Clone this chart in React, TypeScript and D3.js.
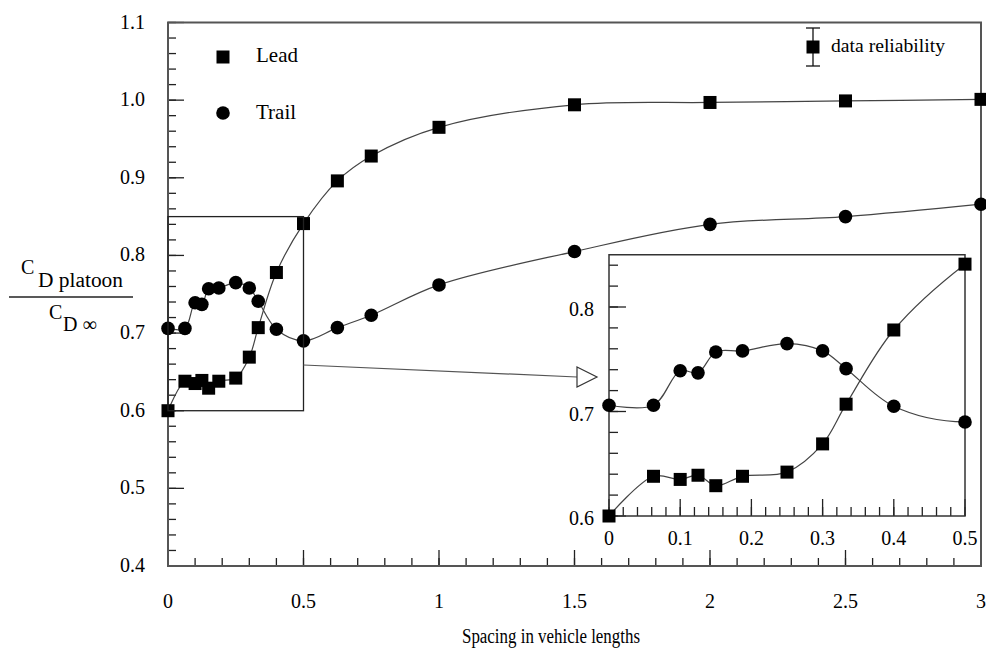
import { useRef, useEffect } from 'react';
import * as d3 from 'd3';

// spacing in vehicle lengths, shared by both series
const spacing = [0, 0.0625, 0.1, 0.125, 0.15, 0.1875, 0.25, 0.3, 0.333, 0.4, 0.5, 0.625, 0.75, 1, 1.5, 2, 2.5, 3];
const leadCd = [0.6, 0.638, 0.635, 0.639, 0.629, 0.638, 0.642, 0.669, 0.707, 0.778, 0.841, 0.896, 0.928, 0.965, 0.994, 0.997, 0.999, 1.001];
const trailCd = [0.706, 0.706, 0.739, 0.737, 0.757, 0.758, 0.765, 0.758, 0.741, 0.705, 0.69, 0.707, 0.723, 0.762, 0.805, 0.84, 0.85, 0.866];

const mainYTicks = [0.4, 0.5, 0.6, 0.7, 0.8, 0.9, 1.0, 1.1];
const mainXTicks = [0, 0.5, 1, 1.5, 2, 2.5, 3];
const insetXTicks = [0, 0.1, 0.2, 0.3, 0.4, 0.5];
const insetYTicks = [0.6, 0.7, 0.8];

const FONT = '"Liberation Serif", "Times New Roman", serif';

type Pt = { x: number; y: number };
type Sel = d3.Selection<SVGGElement, unknown, null, undefined>;

const App = () => {
  const svgRef = useRef<SVGSVGElement>(null);

  useEffect(() => {
    const svg = d3.select(svgRef.current);
    svg.selectAll('*').remove();

    const x = d3.scaleLinear().domain([0, 3]).range([168, 981]);
    const y = d3.scaleLinear().domain([0.4, 1.1]).range([566, 22.5]);
    const ix = d3.scaleLinear().domain([0, 0.5]).range([609, 965]);
    const iy = d3.scaleLinear().domain([0.6, 0.85]).range([516, 254.75]);

    const lead: Pt[] = spacing.map((s, i) => ({ x: s, y: leadCd[i] }));
    const trail: Pt[] = spacing.map((s, i) => ({ x: s, y: trailCd[i] }));

    const root = svg.append('g') as unknown as Sel;

    // inward ticks on left and bottom edges
    const drawTicks = (
      g: Sel,
      xs: d3.ScaleLinear<number, number>,
      ys: d3.ScaleLinear<number, number>,
      xMajor: number[], xMinor: number[],
      yMajor: number[], yMinor: number[],
      majLen: number, minLen: number
    ) => {
      const x0 = xs.range()[0];
      const y0 = ys.range()[0];
      const tick = (x1: number, y1: number, x2: number, y2: number) =>
        g.append('line')
          .attr('x1', x1).attr('y1', y1).attr('x2', x2).attr('y2', y2)
          .attr('stroke', '#222').attr('stroke-width', 1.3);
      yMinor.forEach((v) => tick(x0, ys(v), x0 + minLen, ys(v)));
      yMajor.forEach((v) => tick(x0, ys(v), x0 + majLen, ys(v)));
      xMinor.forEach((v) => tick(xs(v), y0, xs(v), y0 - minLen));
      xMajor.forEach((v) => tick(xs(v), y0, xs(v), y0 - majLen));
    };

    const drawSeries = (
      g: Sel,
      xs: d3.ScaleLinear<number, number>,
      ys: d3.ScaleLinear<number, number>,
      pts: Pt[],
      shape: 'square' | 'circle',
      clip?: string
    ) => {
      const line = d3.line<Pt>()
        .x((d) => xs(d.x))
        .y((d) => ys(d.y))
        .curve(d3.curveCatmullRom.alpha(0.5));
      const path = g.append('path')
        .datum(pts)
        .attr('fill', 'none')
        .attr('stroke', '#444')
        .attr('stroke-width', 1.2)
        .attr('d', line);
      if (clip) path.attr('clip-path', `url(#${clip})`);

      const [lo, hi] = xs.domain();
      const shown = pts.filter((d) => d.x >= lo - 1e-9 && d.x <= hi + 1e-9);
      if (shape === 'square') {
        g.selectAll(null).data(shown).enter().append('rect')
          .attr('x', (d) => xs(d.x) - 6.5)
          .attr('y', (d) => ys(d.y) - 6.5)
          .attr('width', 13).attr('height', 13)
          .attr('fill', '#000');
      } else {
        g.selectAll(null).data(shown).enter().append('circle')
          .attr('cx', (d) => xs(d.x))
          .attr('cy', (d) => ys(d.y))
          .attr('r', 6.8)
          .attr('fill', '#000');
      }
    };

    // ---- main panel ----
    drawTicks(
      root, x, y,
      mainXTicks, d3.range(0, 3.001, 0.1), mainYTicks, d3.range(0.4, 1.1001, 0.02),
      16, 8
    );
    root.append('rect')
      .attr('x', x(0)).attr('y', y(1.1))
      .attr('width', x(3) - x(0)).attr('height', y(0.4) - y(1.1))
      .attr('fill', 'none').attr('stroke', '#555').attr('stroke-width', 2);

    root.selectAll(null).data(mainYTicks).enter().append('text')
      .attr('x', 145).attr('y', (d) => y(d) + 6)
      .attr('text-anchor', 'end')
      .attr('font-family', FONT).attr('font-size', 20).attr('fill', '#000')
      .text((d) => d.toFixed(1));
    root.selectAll(null).data(mainXTicks).enter().append('text')
      .attr('x', (d) => x(d)).attr('y', 608)
      .attr('text-anchor', 'middle')
      .attr('font-family', FONT).attr('font-size', 20).attr('fill', '#000')
      .text((d) => String(d));

    root.append('text')
      .attr('x', 462).attr('y', 643)
      .attr('font-family', FONT).attr('font-size', 20).attr('fill', '#000')
      .attr('textLength', 178).attr('lengthAdjust', 'spacingAndGlyphs')
      .text('Spacing in vehicle lengths');

    // y-axis label as a fraction
    const yl = root.append('g').attr('font-family', FONT).attr('fill', '#000');
    yl.append('text').attr('x', 21).attr('y', 274).attr('font-size', 20).text('C');
    yl.append('text').attr('x', 38).attr('y', 287).attr('font-size', 20)
      .attr('textLength', 85).attr('lengthAdjust', 'spacingAndGlyphs').text('D platoon');
    yl.append('line').attr('x1', 9).attr('x2', 133).attr('y1', 297).attr('y2', 297)
      .attr('stroke', '#222').attr('stroke-width', 1.3);
    yl.append('text').attr('x', 49).attr('y', 319).attr('font-size', 20).text('C');
    yl.append('text').attr('x', 63).attr('y', 331).attr('font-size', 20).text('D \u221E');

    drawSeries(root, x, y, trail, 'circle');
    drawSeries(root, x, y, lead, 'square');

    // zoom rectangle and arrow
    root.append('rect')
      .attr('x', x(0)).attr('y', y(0.85))
      .attr('width', x(0.5) - x(0)).attr('height', y(0.6) - y(0.85))
      .attr('fill', 'none').attr('stroke', '#222').attr('stroke-width', 1.3);
    root.append('line')
      .attr('x1', x(0.5)).attr('y1', 365).attr('x2', 577).attr('y2', 377)
      .attr('stroke', '#555').attr('stroke-width', 1.2);
    root.append('path')
      .attr('d', 'M577,367 L597,377 L577,387 Z')
      .attr('fill', '#fff').attr('stroke', '#333').attr('stroke-width', 1.2);

    // legends
    root.append('rect').attr('x', 216.5).attr('y', 50.5).attr('width', 13).attr('height', 13).attr('fill', '#000');
    root.append('text').attr('x', 256).attr('y', 62)
      .attr('font-family', FONT).attr('font-size', 21).attr('fill', '#000').text('Lead');
    root.append('circle').attr('cx', 223).attr('cy', 113).attr('r', 6.8).attr('fill', '#000');
    root.append('text').attr('x', 256).attr('y', 119)
      .attr('font-family', FONT).attr('font-size', 21).attr('fill', '#000').text('Trail');

    const er = root.append('g').attr('stroke', '#111').attr('stroke-width', 1.3);
    er.append('line').attr('x1', 813).attr('x2', 813).attr('y1', 28).attr('y2', 66);
    er.append('line').attr('x1', 806).attr('x2', 820).attr('y1', 28).attr('y2', 28);
    er.append('line').attr('x1', 806).attr('x2', 820).attr('y1', 66).attr('y2', 66);
    root.append('rect').attr('x', 806.5).attr('y', 40.5).attr('width', 13).attr('height', 13).attr('fill', '#000');
    root.append('text').attr('x', 831).attr('y', 52)
      .attr('font-family', FONT).attr('font-size', 19).attr('fill', '#000')
      .attr('textLength', 114).attr('lengthAdjust', 'spacingAndGlyphs')
      .text('data reliability');

    // ---- inset ----
    const inset = root.append('g') as unknown as Sel;
    inset.append('rect')
      .attr('x', ix(0)).attr('y', iy(0.85))
      .attr('width', ix(0.5) - ix(0)).attr('height', iy(0.6) - iy(0.85))
      .attr('fill', '#fff');
    svg.append('defs').append('clipPath').attr('id', 'inset-clip')
      .append('rect')
      .attr('x', ix(0)).attr('y', iy(0.85))
      .attr('width', ix(0.5) - ix(0)).attr('height', iy(0.6) - iy(0.85));

    drawTicks(
      inset, ix, iy,
      insetXTicks, d3.range(0, 0.5001, 0.02), insetYTicks, d3.range(0.6, 0.8501, 0.02),
      17, 9
    );
    inset.append('rect')
      .attr('x', ix(0)).attr('y', iy(0.85))
      .attr('width', ix(0.5) - ix(0)).attr('height', iy(0.6) - iy(0.85))
      .attr('fill', 'none').attr('stroke', '#333').attr('stroke-width', 1.5);

    inset.selectAll(null).data(insetYTicks).enter().append('text')
      .attr('x', 594).attr('y', (d) => iy(d) + 9)
      .attr('text-anchor', 'end')
      .attr('font-family', FONT).attr('font-size', 20).attr('fill', '#000')
      .text((d) => d.toFixed(1));
    inset.selectAll(null).data(insetXTicks).enter().append('text')
      .attr('x', (d) => ix(d)).attr('y', 545)
      .attr('text-anchor', 'middle')
      .attr('font-family', FONT).attr('font-size', 20).attr('fill', '#000')
      .text((d) => String(d));

    drawSeries(inset, ix, iy, trail, 'circle', 'inset-clip');
    drawSeries(inset, ix, iy, lead, 'square', 'inset-clip');
  }, []);

  return (
    <svg
      ref={svgRef}
      width={986}
      height={648}
      style={{ position: 'absolute', left: 0, top: 0, background: '#fff' }}
    />
  );
};

export default App;
